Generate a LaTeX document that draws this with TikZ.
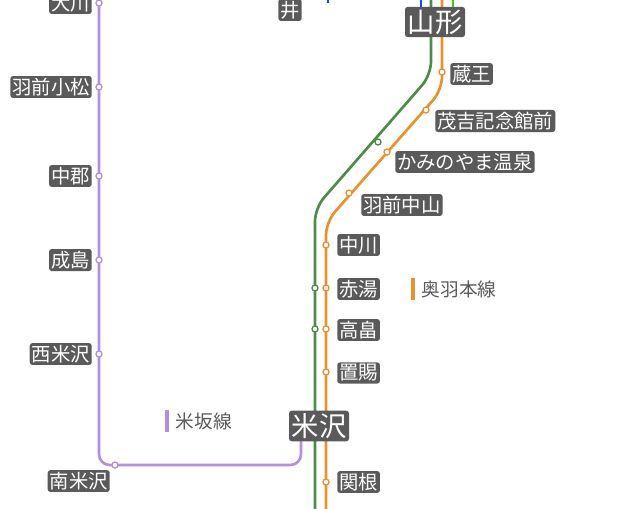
\documentclass[tikz,border=0pt]{standalone}
\usepackage{fontspec}
\setmainfont{Noto Sans CJK JP}
\definecolor{ouline}{HTML}{E8922E}
\definecolor{grline}{HTML}{4E8A48}
\definecolor{yoline}{HTML}{B48EDF}
\definecolor{stnbg}{HTML}{5A5A5A}
\tikzset{
  stn/.style={fill=stnbg,text=white,rounded corners=2pt,inner sep=1.5pt,font=\fontsize{14.5}{14.5}\selectfont},
  bigstn/.style={stn,font=\fontsize{20.5}{20.5}\selectfont,inner sep=2pt},
  dot/.style={circle,draw=#1,fill=white,line width=1pt,inner sep=0pt,minimum size=4.5pt},
  ou/.style={draw=ouline,line width=2pt},
  gr/.style={draw=grline,line width=2pt},
  yo/.style={draw=yoline,line width=2pt},
  legend/.style={anchor=west,text=stnbg,font=\fontsize{14}{14}\selectfont}
}
\begin{document}
\begin{tikzpicture}[x=0.75pt,y=-0.75pt]
\useasboundingbox (0,0) rectangle (636,508);
\clip (0,0) rectangle (636,508);
% Linien
\draw[line width=2pt,blue!70!cyan] (421,-5) -- (421,20);
\draw[line width=2pt,green!50!lime!80!black] (453,-5) -- (453,20);
\draw[line width=2pt,blue!70!cyan] (328,-5) -- (328,3);
\draw[gr,rounded corners=10pt] (431,-5) -- (431,75) -- (315,208) -- (315,515);
\draw[ou,rounded corners=10pt] (442,-5) -- (442,90) -- (326,222) -- (326,515);
\draw[yo,rounded corners=8pt] (99,-5) -- (99,465) -- (301,465) -- (301,430);
% Bahnhoefe
\foreach \y in {3,87,176,260,354}
  \node[dot=yoline] at (99,\y) {};
\node[dot=yoline] at (115,465) {};
\foreach \x/\y in {378/142,315/288,315/329}
  \node[dot=grline] at (\x,\y) {};
\foreach \x/\y in {442/72,426/110,387/152,349/193,326/245,326/288,326/329,326/372,326/482}
  \node[dot=ouline] at (\x,\y) {};
% Namen
\node[stn,anchor=east] (okawa) at (92,3) {大川};
\node[stn,anchor=east] (komatsu) at (92,87) {羽前小松};
\node[stn,anchor=east] (nakagori) at (92,176) {中郡};
\node[stn,anchor=east] (narishima) at (92,260) {成島};
\node[stn,anchor=east] (nishiyone) at (92,354) {西米沢};
\node[stn,anchor=east] (minamiyone) at (110,481) {南米沢};
\node[stn] (i) at (290,10) {井};
\node[bigstn] (yamagata) at (435,22) {山形};
\node[bigstn] (yonezawa) at (319,426) {米沢};
\node[stn,anchor=west] (zao) at (450,74) {蔵王};
\node[stn,anchor=west] (mokichi) at (435,121) {茂吉記念館前};
\node[stn,anchor=west] (kami) at (395,162) {かみのやま温泉};
\node[stn,anchor=west] (nakayama) at (361,205) {羽前中山};
\node[stn,anchor=west] (nakagawa) at (337,245) {中川};
\node[stn,anchor=west] (akayu) at (337,289) {赤湯};
\node[stn,anchor=west] (takahata) at (337,330) {高畠};
\node[stn,anchor=west] (okitama) at (337,373) {置賜};
\node[stn,anchor=west] (sekine) at (337,482) {関根};
% Legende
\draw[ou,line width=2.5pt] (413,278) -- (413,300);
\node[legend] (lou) at (417,289) {奥羽本線};
\draw[yo,line width=2.5pt] (167,410) -- (167,432);
\node[legend] (lyo) at (171,421) {米坂線};
\end{tikzpicture}
\end{document}
